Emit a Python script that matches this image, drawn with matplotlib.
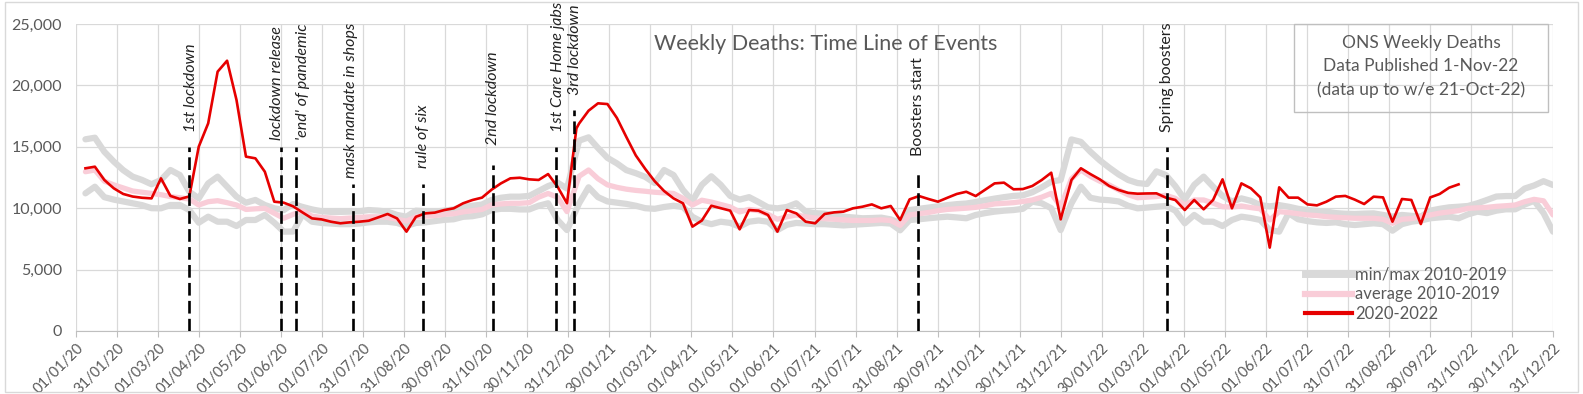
import numpy as np
import pandas as pd
import matplotlib.pyplot as plt
from matplotlib.lines import Line2D
from matplotlib.patches import Rectangle

plt.rcParams['font.family'] = ['Lato', 'DejaVu Sans']

# weekly deaths 2020-2022 (week n of each year)
red_2020 = [13250, 13380, 12300, 11620, 11160, 10950, 10850, 10800, 12430, 11000,
            10750, 10960, 15010, 16910, 21120, 22010, 18810, 14200, 14060, 12970,
            10530, 10450, 10150, 9650, 9170, 9090, 8900, 8770, 8850, 8900,
            8980, 9250, 9530, 9170, 8090, 9300, 9580, 9640, 9850, 9990,
            10400, 10670, 10860, 11500, 12020, 12430, 12480, 12350, 12300, 12780,
            11750, 10400, 16500]
red_2021 = [16900, 17940, 18540, 18480, 17350, 15800, 14300, 13200, 12200, 11400,
            10800, 10400, 8500, 9000, 10200, 10000, 9800, 8280, 9850, 9800,
            9450, 8090, 9850, 9580, 8900, 8770, 9530, 9660, 9720, 9990,
            10120, 10310, 9990, 10180, 9040, 10720, 10990, 10750, 10530, 10850,
            11160, 11340, 10990, 11500, 12020, 12080, 11540, 11560, 11810, 12300,
            12890, 9090]
red_2022 = [12300, 13250, 12780, 12350, 11810, 11480, 11250, 11180, 11200, 11210,
            10860, 10670, 9850, 10670, 9910, 10670, 12350, 9990, 12020, 11620,
            10880, 6790, 11700, 10860, 10860, 10310, 10230, 10530, 10940, 11000,
            10700, 10340, 10940, 10880, 8900, 10750, 10670, 8710, 10880, 11160,
            11670, 11940]

# 2010-2019 baseline, max / min / average by week
max_2020 = [15610, 15740, 14600, 13800, 13100, 12570, 12300, 11950, 12300, 13110,
            12700, 11340, 10800, 12020, 12570, 11750, 10940, 10450, 10670, 10260,
            9990, 9850, 10340, 10100, 9900, 9750, 9700, 9700, 9720, 9750,
            9850, 9800, 9720, 9450, 9310, 9800, 9750, 9720, 9800, 9900,
            10100, 10200, 10300, 10670, 10850, 10940, 10940, 11000, 11400, 11800,
            12080, 11600]
min_2020 = [11210, 11750, 10900, 10700, 10550, 10400, 10250, 10000, 9990, 10260,
            10260, 9850, 8820, 9310, 8900, 8900, 8550, 9040, 9040, 9450,
            8820, 8090, 8100, 9500, 8900, 8800, 8750, 8700, 8700, 8750,
            8850, 8900, 8900, 8800, 8550, 8800, 8850, 8950, 9050, 9100,
            9300, 9350, 9500, 9850, 9950, 9950, 9900, 9900, 10200, 10400,
            9040, 8220]
avg_2020 = [12970, 13110, 12200, 11900, 11650, 11400, 11300, 11200, 11100, 10950,
            10850, 10750, 10260, 10530, 10610, 10450, 10260, 9900, 9950, 9990,
            9580, 9180, 9500, 9800, 9350, 9250, 9200, 9150, 9200, 9250,
            9300, 9300, 9250, 9100, 8950, 9300, 9350, 9400, 9500, 9550,
            9700, 9800, 9900, 10260, 10350, 10400, 10400, 10450, 10900, 11200,
            10900, 9720]
max_2021 = [15500, 15770, 14900, 14100, 13650, 13100, 12850, 12550, 12050, 13110,
            12700, 11480, 10600, 11900, 12600, 11900, 11000, 10700, 10900, 10500,
            10070, 9990, 10100, 10400, 9720, 9600, 9550, 9450, 9310, 9250,
            9180, 9200, 9230, 9090, 8800, 9850, 9950, 10050, 10150, 10250,
            10330, 10380, 10500, 10650, 10780, 10900, 11000, 11050, 11300, 11700,
            12160, 12300]
min_2021 = [10400, 11700, 10900, 10550, 10450, 10350, 10200, 10000, 9950, 10100,
            10200, 10100, 9300, 8900, 8700, 8900, 8800, 8500, 8900, 9000,
            8900, 8220, 8650, 8800, 8750, 8700, 8700, 8650, 8600, 8650,
            8700, 8750, 8800, 8750, 8200, 9040, 9100, 9180, 9250, 9310,
            9250, 9180, 9450, 9600, 9720, 9800, 9850, 9950, 10530, 10400,
            10000, 8220]
avg_2021 = [12600, 13110, 12400, 11900, 11700, 11550, 11450, 11380, 11300, 11250,
            11200, 10800, 10260, 10650, 10500, 10300, 10100, 9700, 9900, 9800,
            9500, 9100, 9300, 9450, 9300, 9200, 9150, 9100, 9050, 9000,
            9000, 9000, 9050, 9000, 8600, 9450, 9550, 9650, 9800, 9900,
            9950, 10000, 10070, 10200, 10350, 10400, 10450, 10550, 10670, 10900,
            11210, 10120]
max_2022 = [15600, 15400, 14600, 13900, 13300, 12750, 12300, 12050, 11970, 13000,
            12700, 11800, 10700, 11900, 12570, 11750, 11000, 10550, 10800, 10600,
            10250, 10150, 10250, 10120, 9950, 9850, 9780, 9720, 9600, 9550,
            9530, 9560, 9580, 9450, 9310, 9450, 9380, 9310, 9800, 9950,
            10070, 10120, 10180, 10400, 10670, 10950, 10990, 10990, 11600, 11850,
            12200, 11890]
min_2022 = [10400, 11750, 10850, 10700, 10650, 10550, 10200, 9990, 10050, 10120,
            10180, 9800, 8770, 9450, 8900, 8900, 8550, 9040, 9310, 9200,
            9040, 8220, 8090, 9600, 9100, 8950, 8850, 8800, 8850, 8700,
            8630, 8700, 8770, 8700, 8170, 8700, 8900, 9000, 9180, 9250,
            9310, 9180, 9500, 9720, 9600, 9800, 9910, 9910, 10300, 10600,
            9600, 8090]
avg_2022 = [12400, 13110, 12600, 12200, 11890, 11480, 11100, 10850, 10900, 10950,
            11050, 10800, 10260, 10670, 10670, 10420, 10120, 10100, 10180, 10050,
            9950, 9040, 9720, 9650, 9550, 9450, 9400, 9310, 9260, 9220,
            9180, 9180, 9180, 9100, 8770, 9100, 9150, 9300, 9450, 9600,
            9700, 9800, 9990, 10030, 10070, 10150, 10200, 10260, 10530, 10720,
            10600, 9450]

events = ["1st lockdown", "lockdown release", "'end' of pandemic", "mask mandate in shops",
          "rule of six", "2nd lockdown", "1st Care Home jabs", "3rd lockdown",
          "Boosters start", "Spring boosters"]
event_dates = ["2020-03-25", "2020-06-01", "2020-06-12", "2020-07-24", "2020-09-14",
               "2020-11-05", "2020-12-22", "2021-01-04", "2021-09-16", "2022-03-20"]
event_tops = [15000, 15000, 15000, 12000, 12000, 13500, 15000, 18000, 13000, 15000]
label_bottoms = [16200, 15550, 15550, 12460, 13270, 15150, 16200, 19220, 14250, 16200]
label_shift = [1, -3, 5, -1, 0, 0, 1, 1, 0, 0]
italic = [True] * 8 + [False] * 2

origin = pd.Timestamp("2020-01-01")


def week_days(year, count):
    start = (pd.Timestamp(f"{year}-01-01") - origin).days
    return start + 7 * np.arange(1, count + 1)


x_red = np.concatenate([week_days(2020, len(red_2020)), week_days(2021, len(red_2021)),
                        week_days(2022, len(red_2022))])
x_base = np.concatenate([week_days(2020, 52), week_days(2021, 52), week_days(2022, 52)])
red = red_2020 + red_2021 + red_2022
vmax = max_2020 + max_2021 + max_2022
vmin = min_2020 + min_2021 + min_2022
vavg = avg_2020 + avg_2021 + avg_2022

grey = '#d9d9d9'
pink = '#f9cdd8'
redc = '#e60000'
txt = '#595959'

fig = plt.figure(figsize=(15.83, 3.94), dpi=100)
ax = fig.add_axes([76 / 1583, 63 / 394, 1477 / 1583, 307 / 394])

ax.plot(x_base, vmax, color=grey, lw=4.5, solid_capstyle='round', zorder=2)
ax.plot(x_base, vmin, color=grey, lw=4.5, solid_capstyle='round', zorder=2)
ax.plot(x_base, vavg, color=pink, lw=3.8, solid_capstyle='round', zorder=3)
ax.plot(x_red, red, color=redc, lw=1.9, zorder=4)

for name, d, top, lb, sh, it in zip(events, event_dates, event_tops, label_bottoms,
                                    label_shift, italic):
    day = (pd.Timestamp(d) - origin).days
    ax.plot([day, day], [0, top], color='black', lw=1.9, linestyle=(0, (4.8, 2.0)), zorder=5)
    ax.text(day + sh, lb, name, rotation=90, ha='center', va='bottom', fontsize=11.5,
            color='#222222', style='italic' if it else 'normal', zorder=6)

ax.set_xlim(0, 1095)
ax.set_ylim(0, 25000)
xt = np.arange(37) * 1095 / 36
ax.set_xticks(xt)
ax.set_xticklabels([(origin + pd.Timedelta(days=int(np.floor(t + 1e-6)))).strftime('%d/%m/%y')
                    for t in xt], rotation=45, ha='right', rotation_mode='anchor',
                   fontsize=10.5, color=txt)
ax.set_yticks(np.arange(0, 25001, 5000))
ax.set_yticklabels([f"{v:,}" for v in range(0, 25001, 5000)], fontsize=11.5, color=txt)
ax.tick_params(axis='y', length=0, pad=10)
ax.tick_params(axis='x', length=4, color='#bfbfbf', pad=3)
ax.grid(color='#d9d9d9', lw=0.9)
ax.set_axisbelow(True)
for s in ['top', 'right', 'left']:
    ax.spines[s].set_visible(False)
ax.spines['bottom'].set_color('#bfbfbf')

fig.text(826 / 1583, 1 - 44 / 394, "Weekly Deaths: Time Line of Events",
         ha='center', va='center', fontsize=15.5, color=txt)

fig.patches.append(Rectangle((1294 / 1583, 1 - 111.7 / 394), 253.7 / 1583, 87.4 / 394,
                             transform=fig.transFigure, fill=False, ec='#bfbfbf', lw=1))
for yy, line in zip([43, 66, 90], ["ONS Weekly Deaths", "Data Published 1-Nov-22",
                                   "(data up to w/e 21-Oct-22)"]):
    fig.text(1421 / 1583, 1 - yy / 394, line, ha='center', va='center', fontsize=12.5, color=txt)

handles = [Line2D([], [], color=grey, lw=5), Line2D([], [], color=pink, lw=4.5),
           Line2D([], [], color=redc, lw=3)]
leg = fig.legend(handles, ["min/max 2010-2019", "average 2010-2019", "2020-2022"],
                 loc='upper left', bbox_to_anchor=(1305 / 1583, 1 - 267 / 394),
                 frameon=False, fontsize=12, handlelength=2.8, handletextpad=0.2,
                 labelspacing=0.2, borderpad=0, borderaxespad=0)
for t in leg.get_texts():
    t.set_color(txt)

fig.patches.append(Rectangle((0.003, 0.006), 0.994, 0.988, transform=fig.transFigure,
                             fill=False, ec='#d9d9d9', lw=1))

plt.savefig("out.png", dpi=100)
